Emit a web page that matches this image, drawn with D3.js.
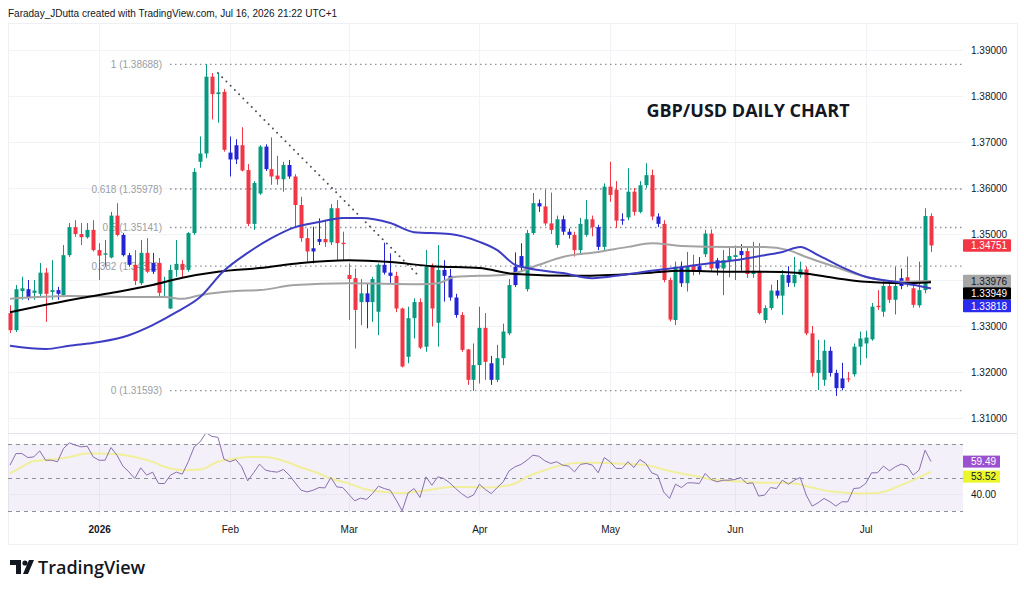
<!DOCTYPE html>
<html>
<head>
<meta charset="utf-8">
<script src="https://cdnjs.cloudflare.com/ajax/libs/d3/7.8.5/d3.min.js"></script>
<style>
    html, body { margin: 0; padding: 0; background: #fff; }
    svg { display: block; font-family: "Liberation Sans", Arial, sans-serif; }
</style>
</head>
<body>
<svg id="chart" width="1024" height="593"></svg>
<script>
// daily candles: date, open, high, low, close, colour kind (g/r/b)
var candles = [
    ['2025-12-10',1.3328,1.3345,1.3285,1.3291,'r'], ['2025-12-11',1.3291,1.3389,1.3287,1.3380,'g'],
    ['2025-12-12',1.3376,1.3407,1.3357,1.3382,'g'], ['2025-12-15',1.3380,1.3400,1.3356,1.3361,'b'],
    ['2025-12-16',1.3372,1.3400,1.3357,1.3377,'g'], ['2025-12-17',1.3370,1.3437,1.3364,1.3416,'g'],
    ['2025-12-18',1.3416,1.3426,1.3309,1.3370,'r'], ['2025-12-19',1.3374,1.3443,1.3357,1.3378,'g'],
    ['2025-12-22',1.3378,1.3385,1.3357,1.3370,'b'], ['2025-12-23',1.3367,1.3476,1.3365,1.3454,'g'],
    ['2025-12-24',1.3454,1.3524,1.3450,1.3515,'g'], ['2025-12-26',1.3515,1.3530,1.3494,1.3500,'r'],
    ['2025-12-29',1.3500,1.3524,1.3476,1.3493,'r'], ['2025-12-30',1.3493,1.3524,1.3490,1.3509,'g'],
    ['2025-12-31',1.3509,1.3530,1.3462,1.3465,'r'], ['2026-01-01',1.3465,1.3480,1.3400,1.3453,'r'],
    ['2026-01-02',1.3455,1.3487,1.3429,1.3458,'g'], ['2026-01-05',1.3449,1.3548,1.3447,1.3540,'g'],
    ['2026-01-06',1.3540,1.3567,1.3495,1.3498,'r'], ['2026-01-07',1.3498,1.3502,1.3451,1.3454,'b'],
    ['2026-01-08',1.3454,1.3459,1.3429,1.3433,'b'], ['2026-01-09',1.3433,1.3465,1.3389,1.3398,'r'],
    ['2026-01-12',1.3393,1.3487,1.3389,1.3459,'g'], ['2026-01-13',1.3459,1.3491,1.3415,1.3418,'r'],
    ['2026-01-14',1.3437,1.3459,1.3413,1.3418,'b'], ['2026-01-15',1.3437,1.3448,1.3364,1.3372,'r'],
    ['2026-01-16',1.3396,1.3407,1.3364,1.3398,'g'], ['2026-01-19',1.3338,1.3433,1.3337,1.3422,'g'],
    ['2026-01-20',1.3422,1.3487,1.3407,1.3435,'g'], ['2026-01-21',1.3435,1.3443,1.3404,1.3422,'r'],
    ['2026-01-22',1.3422,1.3504,1.3418,1.3502,'g'], ['2026-01-23',1.3502,1.3643,1.3498,1.3635,'g'],
    ['2026-01-26',1.3657,1.3712,1.3644,1.3675,'g'], ['2026-01-27',1.3675,1.3869,1.3665,1.3842,'g'],
    ['2026-01-28',1.3842,1.3850,1.3749,1.3804,'r'], ['2026-01-29',1.3804,1.3850,1.3742,1.3808,'g'],
    ['2026-01-30',1.3809,1.3815,1.3679,1.3683,'r'], ['2026-02-02',1.3677,1.3712,1.3625,1.3662,'b'],
    ['2026-02-03',1.3693,1.3706,1.3652,1.3662,'b'], ['2026-02-04',1.3693,1.3732,1.3636,1.3638,'r'],
    ['2026-02-05',1.3639,1.3652,1.3517,1.3522,'r'], ['2026-02-06',1.3522,1.3615,1.3509,1.3611,'g'],
    ['2026-02-09',1.3588,1.3693,1.3585,1.3690,'g'], ['2026-02-10',1.3690,1.3695,1.3637,1.3641,'b'],
    ['2026-02-11',1.3641,1.3710,1.3607,1.3625,'r'], ['2026-02-12',1.3627,1.3670,1.3607,1.3619,'r'],
    ['2026-02-13',1.3619,1.3657,1.3592,1.3650,'g'], ['2026-02-16',1.3650,1.3661,1.3620,1.3625,'b'],
    ['2026-02-17',1.3625,1.3630,1.3516,1.3563,'r'], ['2026-02-18',1.3563,1.3581,1.3483,1.3491,'r'],
    ['2026-02-19',1.3491,1.3512,1.3440,1.3462,'r'], ['2026-02-20',1.3469,1.3516,1.3436,1.3462,'b'],
    ['2026-02-23',1.3483,1.3534,1.3476,1.3489,'b'], ['2026-02-24',1.3489,1.3530,1.3472,1.3482,'r'],
    ['2026-02-25',1.3482,1.3565,1.3476,1.3556,'g'], ['2026-02-26',1.3556,1.3574,1.3443,1.3480,'r'],
    ['2026-02-27',1.3481,1.3505,1.3443,1.3478,'r'], ['2026-03-02',1.3411,1.3436,1.3313,1.3402,'r'],
    ['2026-03-03',1.3404,1.3425,1.3251,1.3335,'r'], ['2026-03-04',1.3352,1.3402,1.3302,1.3371,'g'],
    ['2026-03-05',1.3371,1.3393,1.3295,1.3352,'b'], ['2026-03-06',1.3352,1.3407,1.3309,1.3402,'g'],
    ['2026-03-09',1.3331,1.3436,1.3280,1.3433,'g'], ['2026-03-10',1.3433,1.3481,1.3412,1.3416,'b'],
    ['2026-03-11',1.3416,1.3458,1.3393,1.3409,'b'], ['2026-03-12',1.3409,1.3418,1.3330,1.3338,'r'],
    ['2026-03-13',1.3338,1.3340,1.3210,1.3212,'r'], ['2026-03-16',1.3233,1.3342,1.3219,1.3317,'g'],
    ['2026-03-17',1.3317,1.3360,1.3273,1.3352,'g'], ['2026-03-18',1.3352,1.3360,1.3250,1.3253,'r'],
    ['2026-03-19',1.3255,1.3465,1.3244,1.3429,'g'], ['2026-03-20',1.3429,1.3436,1.3299,1.3338,'r'],
    ['2026-03-23',1.3307,1.3476,1.3255,1.3422,'g'], ['2026-03-24',1.3422,1.3443,1.3353,1.3409,'b'],
    ['2026-03-25',1.3409,1.3424,1.3355,1.3362,'b'], ['2026-03-26',1.3362,1.3370,1.3318,1.3324,'b'],
    ['2026-03-27',1.3324,1.3330,1.3244,1.3248,'r'], ['2026-03-30',1.3249,1.3250,1.3172,1.3183,'r'],
    ['2026-03-31',1.3183,1.3262,1.3159,1.3215,'g'], ['2026-04-01',1.3215,1.3342,1.3175,1.3296,'g'],
    ['2026-04-02',1.3296,1.3328,1.3183,1.3222,'r'], ['2026-04-03',1.3219,1.3235,1.3172,1.3183,'b'],
    ['2026-04-06',1.3183,1.3259,1.3178,1.3230,'g'], ['2026-04-07',1.3230,1.3305,1.3215,1.3288,'g'],
    ['2026-04-08',1.3284,1.3402,1.3280,1.3389,'g'], ['2026-04-09',1.3389,1.3460,1.3385,1.3429,'b'],
    ['2026-04-10',1.3429,1.3480,1.3420,1.3452,'b'], ['2026-04-13',1.3380,1.3509,1.3375,1.3502,'g'],
    ['2026-04-14',1.3502,1.3589,1.3498,1.3567,'g'], ['2026-04-15',1.3567,1.3575,1.3548,1.3560,'b'],
    ['2026-04-16',1.3560,1.3596,1.3518,1.3523,'r'], ['2026-04-17',1.3523,1.3590,1.3500,1.3509,'r'],
    ['2026-04-20',1.3476,1.3540,1.3470,1.3532,'g'], ['2026-04-21',1.3532,1.3540,1.3498,1.3505,'b'],
    ['2026-04-22',1.3505,1.3512,1.3490,1.3498,'b'], ['2026-04-23',1.3498,1.3505,1.3451,1.3465,'r'],
    ['2026-04-24',1.3465,1.3535,1.3455,1.3522,'g'], ['2026-04-27',1.3498,1.3574,1.3494,1.3532,'g'],
    ['2026-04-28',1.3532,1.3540,1.3495,1.3515,'r'], ['2026-04-29',1.3515,1.3520,1.3465,1.3472,'b'],
    ['2026-04-30',1.3472,1.3610,1.3462,1.3603,'g'], ['2026-05-01',1.3603,1.3657,1.3570,1.3585,'r'],
    ['2026-05-04',1.3596,1.3615,1.3513,1.3529,'r'], ['2026-05-05',1.3532,1.3545,1.3520,1.3529,'b'],
    ['2026-05-06',1.3536,1.3643,1.3530,1.3592,'g'], ['2026-05-07',1.3592,1.3600,1.3540,1.3548,'r'],
    ['2026-05-08',1.3548,1.3615,1.3545,1.3606,'g'], ['2026-05-11',1.3606,1.3654,1.3600,1.3628,'g'],
    ['2026-05-12',1.3628,1.3640,1.3530,1.3538,'r'], ['2026-05-13',1.3538,1.3545,1.3515,1.3522,'b'],
    ['2026-05-14',1.3522,1.3530,1.3395,1.3400,'r'], ['2026-05-15',1.3400,1.3405,1.3310,1.3314,'r'],
    ['2026-05-18',1.3313,1.3440,1.3302,1.3429,'g'], ['2026-05-19',1.3429,1.3440,1.3385,1.3393,'b'],
    ['2026-05-20',1.3393,1.3461,1.3375,1.3429,'g'], ['2026-05-21',1.3433,1.3455,1.3410,1.3418,'r'],
    ['2026-05-22',1.3418,1.3450,1.3412,1.3430,'b'], ['2026-05-25',1.3456,1.3509,1.3450,1.3501,'g'],
    ['2026-05-26',1.3501,1.3510,1.3420,1.3425,'r'], ['2026-05-27',1.3425,1.3448,1.3410,1.3443,'b'],
    ['2026-05-28',1.3425,1.3465,1.3367,1.3443,'g'], ['2026-05-29',1.3443,1.3470,1.3406,1.3452,'g'],
    ['2026-06-01',1.3450,1.3475,1.3400,1.3454,'g'], ['2026-06-02',1.3454,1.3478,1.3420,1.3463,'b'],
    ['2026-06-03',1.3463,1.3470,1.3405,1.3413,'r'], ['2026-06-04',1.3413,1.3483,1.3405,1.3420,'g'],
    ['2026-06-05',1.3420,1.3480,1.3325,1.3328,'r'], ['2026-06-08',1.3313,1.3345,1.3306,1.3339,'g'],
    ['2026-06-09',1.3339,1.3390,1.3335,1.3377,'g'], ['2026-06-10',1.3377,1.3400,1.3360,1.3366,'b'],
    ['2026-06-11',1.3366,1.3422,1.3324,1.3411,'g'], ['2026-06-12',1.3411,1.3430,1.3385,1.3394,'b'],
    ['2026-06-15',1.3393,1.3450,1.3385,1.3411,'g'], ['2026-06-16',1.3411,1.3440,1.3405,1.3423,'g'],
    ['2026-06-17',1.3423,1.3429,1.3280,1.3284,'r'], ['2026-06-18',1.3284,1.3300,1.3190,1.3198,'r'],
    ['2026-06-19',1.3198,1.3270,1.3161,1.3226,'g'], ['2026-06-22',1.3183,1.3270,1.3170,1.3246,'g'],
    ['2026-06-23',1.3246,1.3255,1.3190,1.3198,'b'], ['2026-06-24',1.3198,1.3205,1.3148,1.3165,'b'],
    ['2026-06-25',1.3165,1.3220,1.3160,1.3186,'b'], ['2026-06-26',1.3186,1.3200,1.3178,1.3184,'r'],
    ['2026-06-29',1.3195,1.3262,1.3190,1.3255,'g'], ['2026-06-30',1.3255,1.3288,1.3215,1.3273,'g'],
    ['2026-07-01',1.3262,1.3290,1.3230,1.3275,'g'], ['2026-07-02',1.3271,1.3350,1.3268,1.3342,'g'],
    ['2026-07-03',1.3344,1.3378,1.3335,1.3341,'r'], ['2026-07-06',1.3331,1.3400,1.3320,1.3387,'g'],
    ['2026-07-07',1.3387,1.3395,1.3350,1.3357,'r'], ['2026-07-08',1.3357,1.3429,1.3325,1.3387,'g'],
    ['2026-07-09',1.3387,1.3425,1.3380,1.3404,'b'], ['2026-07-10',1.3406,1.3451,1.3385,1.3393,'r'],
    ['2026-07-13',1.3382,1.3395,1.3340,1.3346,'r'], ['2026-07-14',1.3345,1.3440,1.3340,1.3378,'g'],
    ['2026-07-15',1.3378,1.3556,1.3371,1.3539,'g'], ['2026-07-16',1.3539,1.3545,1.3461,1.34751,'r']
]

// RSI(14), one value per candle
var rsi = [
    57.4,64.3,64.3,61.9,62.3,65.9,60.3,60.3,59.4,67.3, 70.7,69.3,68.3,68.7,62.3,60.3,60.3,67.9,63.3,56.8,
    53.4,49.4,55.8,51.4,53.2,46.4,46.4,51.4,53.2,52.0, 59.4,68.3,71.3,76.7,74.5,74.0,61.0,59.4,60.7,56.4,
    48.0,52.8,58.0,54.4,53.6,53.2,54.8,51.4,46.8,42.4, 41.4,42.4,44.0,43.8,50.0,44.4,44.0,40.0,36.1,37.7,
    36.9,40.4,44.8,43.4,42.4,36.5,30.1,40.8,43.4,38.1, 50.4,45.4,50.4,49.4,46.8,43.4,40.4,37.9,39.5,46.0,
    42.8,40.4,44.0,47.4,54.0,56.4,57.8,60.3,63.3,62.7, 60.0,58.4,59.4,57.4,56.8,53.4,57.8,58.4,57.4,52.8,
    61.9,59.4,55.4,55.4,59.4,56.0,60.7,58.4,52.8,51.4, 41.4,37.5,46.0,44.0,46.8,46.8,46.4,52.4,48.8,47.4,
    48.4,48.4,48.8,50.0,46.4,46.8,38.9,39.5,44.0,43.4, 48.4,46.0,48.4,50.0,39.5,32.9,34.9,37.5,35.5,32.9,
    35.5,35.5,43.4,43.8,46.4,52.8,52.8,56.8,54.0,56.4, 58.0,56.8,51.4,54.4,66.3,59.49
]

// moving averages at sample dates
var maBlue = [
    ['2025-12-10',1.3257],['2025-12-18',1.3250],['2025-12-24',1.3257],['2026-01-01',1.3265],['2026-01-08',1.3280],
    ['2026-01-14',1.3302],['2026-01-20',1.3330],['2026-01-26',1.3363],['2026-01-30',1.3420],['2026-02-05',1.3459],
    ['2026-02-11',1.3491],['2026-02-17',1.3515],['2026-02-23',1.3526],['2026-02-27',1.3535],['2026-03-04',1.3535],
    ['2026-03-11',1.3524],['2026-03-17',1.3504],['2026-03-25',1.3500],['2026-04-01',1.3483],['2026-04-06',1.3465],
    ['2026-04-09',1.3433],['2026-04-13',1.3426],['2026-04-21',1.3415],['2026-04-28',1.3404],['2026-05-05',1.3411],
    ['2026-05-12',1.3420],['2026-05-19',1.3428],['2026-05-26',1.3437],['2026-06-01',1.3443],['2026-06-08',1.3454],
    ['2026-06-11',1.3461],['2026-06-16',1.3472],['2026-06-19',1.3454],['2026-06-25',1.3428],['2026-07-01',1.3407],
    ['2026-07-08',1.3396],['2026-07-14',1.3387],['2026-07-16',1.33818]
]
var maBlack = [
    ['2025-12-10',1.3330],['2025-12-18',1.3346],['2025-12-29',1.3361],['2026-01-06',1.3374],['2026-01-14',1.3389],
    ['2026-01-21',1.3405],['2026-01-29',1.3418],['2026-02-09',1.3426],['2026-02-18',1.3437],['2026-03-02',1.3443],
    ['2026-03-11',1.3439],['2026-03-20',1.3430],['2026-04-01',1.3426],['2026-04-09',1.3413],['2026-04-24',1.3409],
    ['2026-05-11',1.3415],['2026-05-19',1.3420],['2026-05-29',1.3418],['2026-06-08',1.3418],['2026-06-16',1.3415],
    ['2026-06-24',1.3404],['2026-07-01',1.3396],['2026-07-09',1.3393],['2026-07-16',1.33949]
]
var maGrey = [
    ['2025-12-10',1.3359],['2025-12-24',1.3365],['2026-01-09',1.3363],['2026-01-16',1.3363],['2026-01-21',1.3359],
    ['2026-01-26',1.3367],['2026-02-03',1.3376],['2026-02-09',1.3378],['2026-02-17',1.3389],['2026-03-02',1.3393],
    ['2026-03-18',1.3391],['2026-03-23',1.3393],['2026-03-26',1.3407],['2026-04-07',1.3411],['2026-04-09',1.3415],
    ['2026-04-15',1.3433],['2026-04-21',1.3450],['2026-04-29',1.3461],['2026-05-06',1.3472],['2026-05-12',1.3480],
    ['2026-05-19',1.3474],['2026-05-29',1.3472],['2026-06-08',1.3472],['2026-06-12',1.3465],['2026-06-17',1.3450],
    ['2026-06-24',1.3428],['2026-07-01',1.3407],['2026-07-09',1.3396],['2026-07-16',1.33976]
]
var rsiMa = [
    ['2025-12-10',52.4],['2025-12-12',56.4],['2025-12-16',59.8],['2025-12-19',60.7],['2025-12-24',62.3],
    ['2025-12-30',64.3],['2026-01-01',64.3],['2026-01-06',63.9],['2026-01-09',62.3],['2026-01-14',59.4],
    ['2026-01-16',56.4],['2026-01-21',54.4],['2026-01-26',54.8],['2026-01-29',59.4],['2026-02-03',61.3],
    ['2026-02-05',62.3],['2026-02-10',62.3],['2026-02-13',60.0],['2026-02-18',56.0],['2026-02-23',52.4],
    ['2026-02-25',49.4],['2026-03-02',46.4],['2026-03-05',42.8],['2026-03-10',41.4],['2026-03-13',40.8],
    ['2026-03-17',41.4],['2026-03-20',42.8],['2026-03-25',44.4],['2026-03-30',44.4],['2026-04-02',44.0],
    ['2026-04-06',44.4],['2026-04-09',46.4],['2026-04-13',50.4],['2026-04-16',54.4],['2026-04-21',57.4],
    ['2026-04-24',58.8],['2026-04-29',58.8],['2026-05-04',58.4],['2026-05-06',58.0],['2026-05-11',57.4],
    ['2026-05-14',54.8],['2026-05-19',52.4],['2026-05-22',50.4],['2026-05-26',48.8],['2026-05-29',48.0],
    ['2026-06-03',47.4],['2026-06-08',46.8],['2026-06-11',46.8],['2026-06-15',46.4],['2026-06-18',44.0],
    ['2026-06-23',41.8],['2026-06-26',40.8],['2026-07-01',40.4],['2026-07-06',41.4],['2026-07-08',44.0],
    ['2026-07-13',48.4],['2026-07-16',53.52]
]

var priceTicks = [1.39, 1.38, 1.37, 1.36, 1.35, 1.34, 1.33, 1.32, 1.31]
var priceTickLabels = [1.39, 1.38, 1.37, 1.36, 1.35, 1.33, 1.32, 1.31]
var fibLevels = [['1', 1.38688], ['0.618', 1.35978], ['0.5', 1.35141], ['0.382', 1.34303], ['0', 1.31593]]
var trendLine = [['2026-01-29', 1.3850], ['2026-03-18', 1.34065]]
var monthTicks = [['2026-01-01','2026'], ['2026-02-02','Feb'], ['2026-03-02','Mar'], ['2026-04-01','Apr'],
                  ['2026-05-01','May'], ['2026-06-01','Jun'], ['2026-07-01','Jul']]
var rsiBands = [70, 50, 30]
var rsiTicks = [40]

var colors = { g: '#089981', r: '#f23645', b: '#2424d6' }

var svg = d3.select('#chart')
var left = 8, right = 963
var priceTop = 24, paneSplit = 433, rsiBottom = 515

var dates = candles.map(function(d) { return d[0] })
var x = d3.scalePoint().domain(dates).range([10, 931])
var y = d3.scaleLinear().domain([1.31, 1.39]).range([418, 50])
var yr = d3.scaleLinear().domain([30, 70]).range([511, 444])

svg.append('rect').attr('width', 1024).attr('height', 593).attr('fill', '#fff')

var defs = svg.append('defs')
defs.append('clipPath').attr('id', 'priceClip').append('rect')
    .attr('x', left).attr('y', priceTop).attr('width', right - left).attr('height', paneSplit - priceTop)
defs.append('clipPath').attr('id', 'rsiClip').append('rect')
    .attr('x', left).attr('y', paneSplit + 1).attr('width', right - left).attr('height', rsiBottom - paneSplit - 1)

// header
svg.append('text').attr('x', 8).attr('y', 17)
    .style('font-size', '10px').attr('fill', '#131722')
    .text('Faraday_JDutta created with TradingView.com, Jul 16, 2026 21:22 UTC+1')

// frame
svg.append('rect').attr('x', 8.5).attr('y', 23.5).attr('width', 1009).attr('height', 521)
    .attr('fill', 'none').attr('stroke', '#eef0f4')
svg.append('line').attr('x1', 8).attr('x2', 1017).attr('y1', paneSplit + 0.5).attr('y2', paneSplit + 0.5)
    .attr('stroke', '#e0e3eb')

// grid
var grid = svg.append('g')
grid.selectAll('line.h').data(priceTicks).enter().append('line')
    .attr('x1', left).attr('x2', right)
    .attr('y1', function(d) { return Math.round(y(d)) + 0.5 })
    .attr('y2', function(d) { return Math.round(y(d)) + 0.5 })
    .attr('stroke', '#f2f3f6')
grid.selectAll('line.v').data(monthTicks).enter().append('line')
    .attr('x1', function(d) { return Math.round(x(d[0])) + 0.5 })
    .attr('x2', function(d) { return Math.round(x(d[0])) + 0.5 })
    .attr('y1', priceTop).attr('y2', rsiBottom)
    .attr('stroke', '#f2f3f6')

// fib retracement
var fib = svg.append('g')
fib.selectAll('line').data(fibLevels).enter().append('line')
    .attr('x1', 170).attr('x2', right)
    .attr('y1', function(d) { return y(d[1]) }).attr('y2', function(d) { return y(d[1]) })
    .attr('stroke', '#8d919b').attr('stroke-width', 1.3).attr('stroke-dasharray', '1.5,3.5')
fib.selectAll('text').data(fibLevels).enter().append('text')
    .attr('x', 162).attr('y', function(d) { return y(d[1]) + 3.5 })
    .attr('text-anchor', 'end').style('font-size', '10px').attr('fill', '#9a9da5')
    .text(function(d) { return d[0] + ' (' + d[1].toFixed(5) + ')' })

// price pane content
var price = svg.append('g').attr('clip-path', 'url(#priceClip)')

price.append('line')
    .attr('x1', x(trendLine[0][0])).attr('y1', y(trendLine[0][1]))
    .attr('x2', x(trendLine[1][0])).attr('y2', y(trendLine[1][1]))
    .attr('stroke', '#4a4e58').attr('stroke-width', 2).attr('stroke-linecap', 'round')
    .attr('stroke-dasharray', '0,6')

var bodyW = 4
var candle = price.selectAll('g.candle').data(candles).enter().append('g')
candle.append('line')
    .attr('x1', function(d) { return Math.round(x(d[0])) + 0.5 })
    .attr('x2', function(d) { return Math.round(x(d[0])) + 0.5 })
    .attr('y1', function(d) { return y(d[2]) }).attr('y2', function(d) { return y(d[3]) })
    .attr('stroke', function(d) { return colors[d[5]] }).attr('stroke-width', 1)
candle.append('rect')
    .attr('x', function(d) { return Math.round(x(d[0])) + 0.5 - bodyW / 2 })
    .attr('width', bodyW)
    .attr('y', function(d) { return y(Math.max(d[1], d[4])) })
    .attr('height', function(d) { return Math.max(1, Math.abs(y(d[1]) - y(d[4]))) })
    .attr('fill', function(d) { return colors[d[5]] })

var maLine = d3.line()
    .x(function(d) { return x(d[0]) })
    .y(function(d) { return y(d[1]) })
    .curve(d3.curveMonotoneX)
price.append('path').datum(maGrey).attr('d', maLine)
    .attr('fill', 'none').attr('stroke', '#a3a3a3').attr('stroke-width', 2)
price.append('path').datum(maBlack).attr('d', maLine)
    .attr('fill', 'none').attr('stroke', '#000').attr('stroke-width', 2)
price.append('path').datum(maBlue).attr('d', maLine)
    .attr('fill', 'none').attr('stroke', '#3d3dc4').attr('stroke-width', 2)

// title
svg.append('text').attr('x', 748).attr('y', 117).attr('text-anchor', 'middle')
    .style('font-family', '"Open Sans", sans-serif').style('font-size', '18px').style('font-weight', 700)
    .attr('fill', '#131722').text('GBP/USD DAILY CHART')

// price axis
var yAxis = svg.append('g').attr('transform', 'translate(' + right + ',0)')
    .call(d3.axisRight(y).tickValues(priceTickLabels).tickSize(0).tickPadding(8).tickFormat(d3.format('.5f')))
yAxis.select('.domain').remove()
yAxis.selectAll('text').style('font-size', '10px').style('font-family', '"Liberation Sans", Arial, sans-serif')
    .attr('fill', '#131722')

// last value tags
var last = candles[candles.length - 1]
var tagH = 12.5
var tags = [
    { v: last[4], bg: '#f23645', fg: '#fff', y: y(last[4]) - tagH / 2 },
    { v: maGrey[maGrey.length - 1][1], bg: '#a6a6a6', fg: '#131722' },
    { v: maBlack[maBlack.length - 1][1], bg: '#000', fg: '#fff' },
    { v: maBlue[maBlue.length - 1][1], bg: '#2b2bf0', fg: '#fff' }
]
var stackTop = y(tags[1].v) - tagH / 2
tags.forEach(function(t, i) {
    if (i > 0)
        t.y = stackTop + (i - 1) * tagH
    var g = svg.append('g')
    g.append('rect').attr('x', right).attr('y', t.y).attr('width', 48).attr('height', tagH)
        .attr('rx', 1).attr('fill', t.bg)
    g.append('text').attr('x', right + 8).attr('y', t.y + tagH / 2 + 3.5)
        .style('font-size', '10px').attr('fill', t.fg).text(t.v.toFixed(5))
})

// RSI pane
var rsiG = svg.append('g').attr('clip-path', 'url(#rsiClip)')
rsiG.append('rect').attr('x', left).attr('width', right - left)
    .attr('y', yr(70)).attr('height', yr(30) - yr(70))
    .attr('fill', '#7e57c2').attr('fill-opacity', 0.09)
rsiG.selectAll('line.tick').data(rsiTicks).enter().append('line')
    .attr('x1', left).attr('x2', right)
    .attr('y1', function(d) { return Math.round(yr(d)) + 0.5 }).attr('y2', function(d) { return Math.round(yr(d)) + 0.5 })
    .attr('stroke', '#e9e6f2')
rsiG.selectAll('line.band').data(rsiBands).enter().append('line')
    .attr('x1', left).attr('x2', right)
    .attr('y1', function(d) { return Math.round(yr(d)) + 0.5 }).attr('y2', function(d) { return Math.round(yr(d)) + 0.5 })
    .attr('stroke', '#8d919b').attr('stroke-dasharray', '4,4')
rsiG.append('path').datum(rsiMa)
    .attr('d', d3.line().x(function(d) { return x(d[0]) }).y(function(d) { return yr(d[1]) }).curve(d3.curveMonotoneX))
    .attr('fill', 'none').attr('stroke', '#f1ef9c').attr('stroke-width', 2)
rsiG.append('path').datum(rsi)
    .attr('d', d3.line().x(function(d, i) { return x(dates[i]) }).y(function(d) { return yr(d) }))
    .attr('fill', 'none').attr('stroke', '#8a6fb0').attr('stroke-width', 1)

var rsiAxis = svg.append('g').attr('transform', 'translate(' + right + ',0)')
    .call(d3.axisRight(yr).tickValues(rsiTicks).tickSize(0).tickPadding(8).tickFormat(d3.format('.2f')))
rsiAxis.select('.domain').remove()
rsiAxis.selectAll('text').style('font-size', '10px').attr('fill', '#131722')

var rsiLast = rsi[rsi.length - 1], rsiMaLast = rsiMa[rsiMa.length - 1][1]
var rsiTagH = 12
var pY = yr(rsiLast) - rsiTagH / 2
var yY = Math.max(yr(rsiMaLast) - rsiTagH / 2, pY + rsiTagH + 3)
;[{ v: rsiLast, y: pY, bg: '#9b50d0', fg: '#fff' }, { v: rsiMaLast, y: yY, bg: '#eaf52a', fg: '#131722' }]
    .forEach(function(t) {
        svg.append('rect').attr('x', right).attr('y', t.y).attr('width', 37).attr('height', rsiTagH).attr('fill', t.bg)
        svg.append('text').attr('x', right + 8).attr('y', t.y + rsiTagH / 2 + 3.5)
            .style('font-size', '10px').attr('fill', t.fg).text(t.v.toFixed(2))
    })

// time axis
var xAxis = svg.append('g').attr('transform', 'translate(0,' + rsiBottom + ')')
    .call(d3.axisBottom(x).tickValues(monthTicks.map(function(d) { return d[0] })).tickSize(0).tickPadding(11)
        .tickFormat(function(d) { return monthTicks.find(function(m) { return m[0] === d })[1] }))
xAxis.select('.domain').remove()
xAxis.selectAll('text').style('font-size', '10px').attr('fill', '#131722')
    .style('font-weight', function(d) { return d === '2026-01-01' ? 700 : 400 })

// TradingView logo
var logo = svg.append('g').attr('fill', '#131722')
logo.append('path').attr('d', 'M10,560 h11 v14 h-5 v-9 h-6 z')
logo.append('circle').attr('cx', 25).attr('cy', 563).attr('r', 2.6)
logo.append('path').attr('d', 'M29,560 h5 l-6,14 h-5 z')
logo.append('text').attr('x', 38).attr('y', 574)
    .style('font-family', '"Open Sans", sans-serif').style('font-size', '18px').style('font-weight', 600)
    .text('TradingView')
</script>
</body>
</html>
